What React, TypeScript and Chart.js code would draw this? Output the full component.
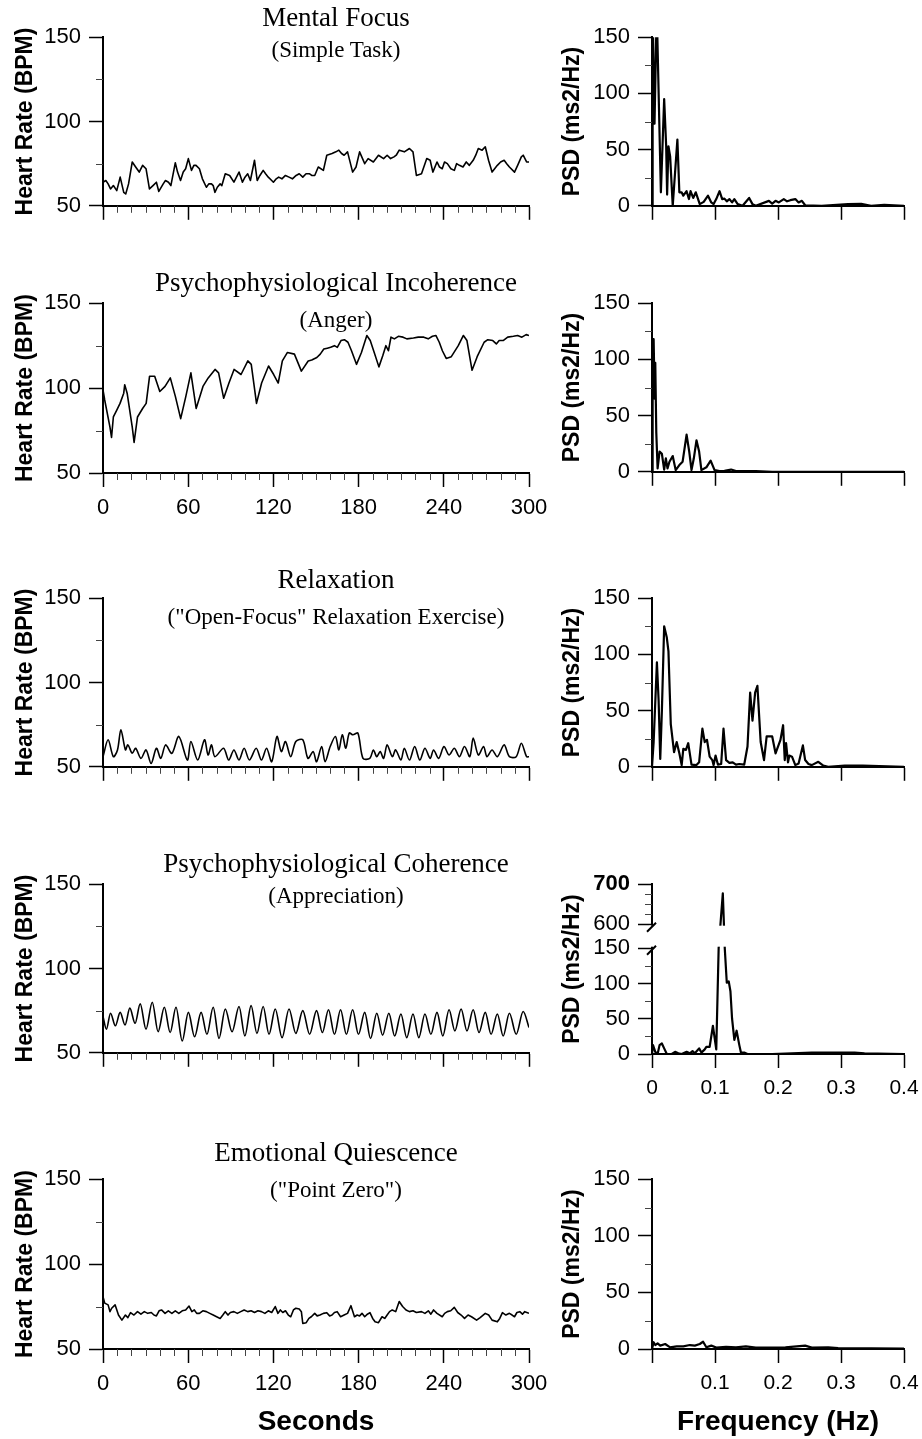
import React, { useEffect, useRef } from 'react';
import { Chart, registerables, LinearScale } from 'chart.js';

Chart.register(...registerables);

// ---------------- DATA ----------------
// Heart-rate traces: [seconds, BPM]
const FOCUS_HR = [[0,64],[2,65],[3.6,63],[5.3,60],[7.3,62],[9.7,59],[12.1,67],[14.6,58],[16,57],[18,63],[20.6,76],[23,73],[25.5,70],[27.9,74],[30.3,72],[32.7,60],[35.2,62],[37.6,64],[39.3,58.5],[42.4,63],[44,65],[46.1,64],[47.8,62],[50.9,75.5],[52.5,70],[54.6,65],[56.5,70],[58.2,72],[60.1,78],[62.3,71],[64,74],[65.5,74],[67.9,72],[70,66],[72.8,61],[74.5,63],[76.4,63],[77.6,62],[78.8,58],[80.5,61],[82.5,63],[83.7,62],[86.1,69],[89.2,68],[92.2,64],[95.8,70],[98.2,64],[100,67],[101.9,69],[103.8,65],[106.7,77],[108.6,65],[110.5,68],[112.8,71],[114.5,69],[116.4,67],[118.8,65],[120,64],[122,66],[123.7,67],[126,66],[128.5,68],[131,67],[133.4,66],[136,68],[138.2,69],[140.7,67],[143,69],[145.5,69],[147,68],[149.1,68],[151.6,73],[155.2,71],[157.6,80],[161.3,81],[164,82],[166.1,83],[168,81],[169.8,80],[172.2,82],[175.8,70],[178.2,73],[180.7,82],[184.3,75],[186.7,78],[190.4,76],[194,80],[197.6,78],[200.1,80],[202.5,78],[204.9,79],[206.5,80],[208.6,83],[212.2,82],[215.8,84],[218.3,82],[220.7,68],[224.3,69],[228,78],[230.4,77],[232.3,70],[235.2,76],[237,73],[238.9,72],[240.5,76],[242.5,75],[245,72],[247.4,71],[249,75],[251,74],[253.5,73],[255.8,76],[258,74],[260.7,77],[262.5,80],[264.3,84],[267,83],[269.2,85],[271.5,77],[274,70],[275.8,72],[277.7,74],[280,76],[282.5,77],[284.3,75],[286.2,73],[289.8,70],[292,74],[294.6,79],[295.9,80],[298.3,76],[300,76]];

const ANGER_HR = [[0,99],[1.2,93],[4.9,77],[6,71],[7.3,83],[9.7,87],[12,91],[14.6,97],[15.3,102],[17,97],[20.6,77],[21.9,68],[24.3,83],[27.9,88],[30.4,91],[32.8,107],[36.4,107],[40,98],[43.7,101],[47.4,106],[51,95],[54.7,82],[58.3,95],[61.9,109],[65.6,88],[70.4,101],[74.1,106],[78.9,111],[81.4,109],[85,94],[88.7,103],[92.3,111],[97.2,108],[102,116],[104.4,114],[108.1,91],[111.7,103],[116.6,113],[120.2,108],[123.4,103],[126.3,116],[129.9,121],[134.8,120],[139.7,110],[144.5,116],[147,116.5],[150.6,118],[153,120],[155.5,123],[158,123.5],[160.3,124],[163,125],[165,124],[167.6,128],[170,128.5],[172.5,127],[175,122],[178.5,114],[182,121],[185.8,131],[188.2,128],[191,121],[194.3,112.5],[197,119],[199.2,125],[201,122],[202.8,130],[205.2,129],[208,130.5],[211.3,130],[214,129],[218.6,129.5],[222,130],[225.9,130],[229,129],[232,130.5],[234.4,131],[236.8,127],[239,122],[241.7,117.5],[245.3,118.5],[250.2,125],[253.8,131],[256.3,128],[259.9,110.5],[263.5,118.5],[268.4,127],[271,128.5],[274.5,128],[277,126],[279,128],[281.8,128],[285,130],[289,130.5],[292,131],[295,130],[298,131.5],[300,131]];

const RELAX_HR = [[0,56],[3.6,66],[7.3,56],[10.2,60],[12.6,72],[15.8,60],[17.5,63],[20.6,58],[23,61],[26.7,55],[30.3,60],[33.9,52],[37.6,61],[40.7,55],[44.1,63],[48.5,58],[53.4,68],[59.4,54],[61.9,65],[66.7,54],[71.5,66],[74,57],[76.4,63],[78.8,56],[84.9,61],[88.5,54],[92.2,60],[95.8,54],[99.4,61],[103.1,54],[107.9,61],[111.6,54],[115.2,61],[118.8,53],[122.5,68],[125.6,59],[128.5,65],[132.2,56],[135.8,65],[140.7,66],[144.3,55],[148,59],[150.4,53],[154,62],[156.4,53],[160,62],[163.7,68],[166.1,60],[168.5,69],[171,61],[173.4,70],[176,69],[179.5,70],[183.1,55],[187.9,55],[190.4,60],[192.8,56],[195.2,59],[197.6,55],[200.1,63],[203.7,56],[206.1,60],[209.8,54],[212.2,61],[215.8,54],[219.5,62],[223.1,54],[226.7,61],[230.4,55],[232.8,60],[236.4,55],[240.1,62],[243.7,57],[247.4,61],[251,56],[254.6,62],[258.3,56],[260.7,67],[264.3,57],[268,62],[270.4,56],[274,60],[277.7,56],[282.5,63],[286.2,56],[291,56],[294.6,64],[298.3,56],[300,56]];

const COHERENCE_HR = [[0,71.5],[2.4,64],[5.3,73.5],[8.7,66],[12.1,74],[15.5,66.5],[18.9,76.5],[22.6,67.5],[26.2,79],[30.3,64],[34.7,80],[38.8,62.5],[43.2,77],[47.3,62],[51.4,77],[55.8,57],[60.1,74],[64.5,59.5],[69.1,74],[73.2,61],[77.6,77],[81.7,58.5],[86.1,76],[90.9,62.5],[95.8,77.5],[99.9,60],[104.3,78],[108.4,61.5],[112.8,77.5],[116.9,61],[121.3,76],[126.1,59],[131,76],[135.8,61.5],[140.7,75],[145.5,61],[150.4,75],[154.5,62],[158.8,75.5],[163,61],[167.3,75.5],[171.4,61],[175.8,75.5],[179.9,61],[184.3,74],[188.4,58.5],[192.8,73.5],[196.9,60.5],[201.3,73.5],[205.4,60],[209.8,73],[213.9,59],[218.3,73],[222.4,59],[226.7,73],[230.9,61],[235.2,74],[239.3,60],[243.7,75.5],[247.8,63],[252.2,76],[256.3,63],[260.7,75.5],[264.8,62],[269.2,74],[273.3,61],[277.7,73],[281.8,60],[286.2,73.5],[291,61],[295.9,74.5],[300,65]];

const QUIESCENCE_HR = [[0,80.8],[1.2,77],[3.6,76],[4.9,72],[6.1,74],[8.5,76],[10.9,70],[13.3,67],[15.8,70],[17.5,68.5],[19.4,71.4],[21.8,70],[24.3,72],[26.7,70.5],[29.1,72],[31.5,71],[34,71.5],[35.9,70],[37.6,69.5],[39.5,72.5],[41.2,73],[43.7,71],[46,72.5],[48.5,71],[50.9,72.5],[53.4,71],[55.8,72.5],[58.2,73],[60.6,75.3],[62.6,72],[64.3,73],[66,71],[67.9,71],[70.3,72.5],[72.8,72],[75.2,71],[77.6,70],[80,69],[82.5,68],[84.4,70],[86.1,72],[88,70],[89.7,71.5],[92.2,72],[94.6,71],[97,72],[99.4,73],[101.9,72],[104.3,72.5],[106.7,71.5],[109.1,72.5],[111.6,72],[114,71],[116.4,72.5],[118.8,71.5],[121.3,75],[123.2,71],[124.9,73],[126.6,71.5],[128.5,72.5],[130.5,70],[132.2,69],[134.1,73],[135.8,74],[138.2,73.5],[139.7,72],[140.7,65],[143.1,65.5],[145,68],[146.7,69],[149.1,71],[150.8,69.5],[152.8,70],[155.2,71],[157.6,71.4],[159.6,69.5],[161.3,70],[163,71.5],[164.9,72],[167.3,69],[169.8,70],[172.2,71],[174.6,75.5],[177.1,69],[179,70],[180.7,69.5],[182.4,71],[184.3,69],[186.2,70.5],[188,71.4],[189.9,68],[191.6,66],[194,65.5],[196.5,69],[198.4,68],[200.1,70],[201.8,72],[203.7,73],[206.1,72],[208.6,78],[211,75],[213.4,73],[215.8,72],[218.3,72.5],[220.7,71.5],[224.3,72],[226.7,71],[229.1,72.5],[230.9,70.5],[232.8,73],[235.2,71],[238.9,69],[240.6,71],[242.5,72],[244.9,72.5],[247.4,74.5],[249.8,71.5],[252.2,70],[254.6,68],[257.1,70],[259.5,69],[263.1,67],[265.6,68.5],[269.2,71],[271.6,70],[274,67],[277.7,66],[279.4,68],[281.3,71.4],[283.7,70],[286.2,71],[288.1,70],[289.8,69],[291.5,71.5],[293.5,72],[295.4,70.5],[297,72],[300,71]];

// Power spectra: [Hz, ms2/Hz]
const FOCUS_PSD = [[0,0],[0.001,175],[0.004,73],[0.0075,175],[0.0141,12],[0.0193,95],[0.0225,53],[0.024,10],[0.0261,53],[0.0288,44],[0.0329,0],[0.0403,59],[0.0434,12],[0.047,12],[0.0497,9],[0.0549,13],[0.0586,6],[0.0612,13],[0.0654,7],[0.0695,12],[0.0758,1.5],[0.0821,3.5],[0.0889,9],[0.0941,3],[0.0978,1.5],[0.102,6],[0.1072,13],[0.1114,6],[0.115,6.4],[0.1187,4],[0.1229,6],[0.1271,3],[0.1307,6],[0.136,1.5],[0.1438,0],[0.1542,7],[0.1595,1.5],[0.1647,0],[0.1856,4.4],[0.1908,2],[0.1961,4.4],[0.2013,3],[0.2092,6],[0.2144,4],[0.2196,5],[0.2275,6],[0.2327,3],[0.2379,4.4],[0.2431,0.5],[0.2693,0],[0.3111,1.5],[0.332,1.8],[0.3477,0],[0.3686,0.9],[0.4,0]];

const ANGER_PSD = [[0,0],[0.001,118],[0.0026,118],[0.0042,65],[0.0052,97],[0.0068,35],[0.0089,3],[0.012,18],[0.0157,16],[0.0193,2],[0.022,12],[0.0246,3],[0.0277,9],[0.0329,14],[0.0376,1.5],[0.0434,6],[0.0486,9],[0.0549,33],[0.0591,18],[0.0627,1.5],[0.0664,12],[0.0706,28],[0.0748,18],[0.0784,1.5],[0.0863,4],[0.0931,10],[0.0993,1.5],[0.1072,0.6],[0.115,0.9],[0.1255,2],[0.1333,0.6],[0.1647,0.6],[0.1908,0],[0.4,0]];

const RELAX_PSD = [[0,0],[0.0026,22],[0.0078,93],[0.0105,59],[0.0131,7],[0.0157,50],[0.0193,125],[0.0235,115],[0.0261,103],[0.0298,38],[0.035,13],[0.0392,22],[0.0434,12],[0.0471,1.5],[0.0497,16],[0.0539,15],[0.0575,21],[0.0627,2],[0.0706,1.5],[0.0748,4],[0.08,34],[0.0837,22],[0.0873,24],[0.0915,9],[0.0957,6],[0.0978,1.5],[0.1009,10],[0.1046,2],[0.1098,2.5],[0.1135,34],[0.1176,6],[0.1229,3.5],[0.1281,4],[0.1333,2],[0.1386,2.5],[0.1464,2],[0.1516,18],[0.1558,66],[0.1595,41],[0.1637,66],[0.1673,72],[0.1725,22],[0.1778,6],[0.182,27],[0.1908,27],[0.1961,12],[0.2039,24],[0.2081,37],[0.2107,6],[0.2128,21],[0.2159,4],[0.218,10],[0.2222,9],[0.2275,1.5],[0.2327,3],[0.2395,19],[0.2431,6],[0.2484,2.5],[0.2536,1.5],[0.264,4.4],[0.2719,1],[0.2797,0],[0.3059,1],[0.3346,1],[0.4,0]];

const COHERENCE_PSD = [[0,0],[0.0016,12.6],[0.0052,3],[0.0089,0],[0.012,12.6],[0.0157,15],[0.0193,8],[0.0235,0],[0.0314,0],[0.0366,3],[0.0418,1],[0.0471,0],[0.0549,3],[0.0601,1],[0.0643,4],[0.068,1],[0.0748,8],[0.0784,2],[0.0837,6.5],[0.0863,10],[0.0915,10],[0.0967,40],[0.102,6.5],[0.1058,150],[0.1124,677],[0.1155,150],[0.1187,101],[0.1218,103],[0.1245,89],[0.1271,50],[0.1307,20],[0.1343,33],[0.1386,12.6],[0.1412,2],[0.1464,2],[0.1516,0],[0.1908,0],[0.2222,1],[0.2536,2],[0.3216,2],[0.3373,1],[0.4,0]];

const QUIESCENCE_PSD = [[0,0],[0.0026,6],[0.0052,3.5],[0.0089,5],[0.0131,3],[0.0209,4.4],[0.0288,1.5],[0.0392,2.3],[0.0497,2.3],[0.0601,3.5],[0.068,3],[0.0758,4.4],[0.0811,6.4],[0.0863,1.5],[0.0941,3],[0.102,1.2],[0.1176,2],[0.1333,1.5],[0.149,2.3],[0.1647,1.2],[0.1908,1.2],[0.2118,1.5],[0.2431,3],[0.2536,1.2],[0.2797,1.5],[0.2954,0.9],[0.3477,0.6],[0.4,0.3]];

// Ticks
const SEC_MAJOR = [0, 60, 120, 180, 240, 300];
const SEC_MINOR = [10,20,30,40,50,70,80,90,100,110,130,140,150,160,170,190,200,210,220,230,250,260,270,280,290];
const HR_MAJOR = [50, 100, 150];
const HR_MINOR = [75, 125];
const PSD_MAJOR = [0, 50, 100, 150];
const PSD_MINOR = [25, 75, 125];
const FREQ_MAJOR = [0, 0.1, 0.2, 0.3, 0.4];
const BROKEN_MAJOR = [0, 50, 100, 150, 600, 700];
const BROKEN_MINOR = [25, 75, 125, 625, 650, 675];

// Titles
const TITLES = [
  { text: 'Mental Focus', cy: 18, size: 27 },
  { text: '(Simple Task)', cy: 50, size: 23 },
  { text: 'Psychophysiological Incoherence', cy: 283, size: 27 },
  { text: '(Anger)', cy: 320, size: 23 },
  { text: 'Relaxation', cy: 580, size: 27 },
  { text: '("Open-Focus" Relaxation Exercise)', cy: 617, size: 23 },
  { text: 'Psychophysiological Coherence', cy: 864, size: 27 },
  { text: '(Appreciation)', cy: 896, size: 23 },
  { text: 'Emotional Quiescence', cy: 1153, size: 27 },
  { text: '("Point Zero")', cy: 1190, size: 23 },
];

// ---------------- Broken y scale (0-150 and 600-700) ----------------
const BREAK_LOW_MAX = 150;
const BREAK_HIGH_MIN = 600;
const BREAK_HIGH_MAX = 700;
const BREAK_UPPER_PX = 40;
const BREAK_GAP_PX = 24;

class BrokenScale extends LinearScale {
  getPixelForValue(value: number) {
    const top = (this as any).top, bottom = (this as any).bottom;
    const lowerTop = top + BREAK_UPPER_PX + BREAK_GAP_PX;
    if (value <= BREAK_LOW_MAX) return bottom - (value / BREAK_LOW_MAX) * (bottom - lowerTop);
    if (value >= BREAK_HIGH_MIN) return top + BREAK_UPPER_PX - ((value - BREAK_HIGH_MIN) / (BREAK_HIGH_MAX - BREAK_HIGH_MIN)) * BREAK_UPPER_PX;
    return lowerTop - ((value - BREAK_LOW_MAX) / (BREAK_HIGH_MIN - BREAK_LOW_MAX)) * BREAK_GAP_PX;
  }
  getValueForPixel(pixel: number) {
    const top = (this as any).top, bottom = (this as any).bottom;
    const upperBottom = top + BREAK_UPPER_PX;
    const lowerTop = upperBottom + BREAK_GAP_PX;
    if (pixel >= lowerTop) return ((bottom - pixel) / (bottom - lowerTop)) * BREAK_LOW_MAX;
    if (pixel <= upperBottom) return BREAK_HIGH_MIN + ((upperBottom - pixel) / BREAK_UPPER_PX) * (BREAK_HIGH_MAX - BREAK_HIGH_MIN);
    return BREAK_LOW_MAX + ((lowerTop - pixel) / BREAK_GAP_PX) * (BREAK_HIGH_MIN - BREAK_LOW_MAX);
  }
}
(BrokenScale as any).id = 'brokenLinear';
(BrokenScale as any).defaults = (LinearScale as any).defaults;
Chart.register(BrokenScale as any);

Chart.defaults.font.family = "'Liberation Sans', Arial, Helvetica, sans-serif";
Chart.defaults.color = '#000';

// ---------------- Panels ----------------
const LEFT = { canvasLeft: 0, canvasWidth: 560, areaLeft: 103, areaRight: 529 };
const RIGHT = { canvasLeft: 540, canvasWidth: 400, areaLeft: 652, areaRight: 904 };
const ROWS = [
  { top: 36, bottom: 207 },
  { top: 302, bottom: 473 },
  { top: 597, bottom: 768 },
  { top: 883, bottom: 1054 },
  { top: 1178, bottom: 1349 },
];

const secLabel = (v: number) => (SEC_MAJOR.includes(v) ? String(v) : '');
const noLabel = () => '';
const freqLabel = (v: number) => (Math.abs(v) < 1e-9 ? '0' : v.toFixed(1));
const freqLabelNoZero = (v: number) => (Math.abs(v) < 1e-9 ? '' : v.toFixed(1));

type Spec = any;

function leftPanel(row: number, data: number[][], opts: any): Spec {
  return {
    side: LEFT, row: ROWS[row], data,
    xMin: 0, xMax: 300, xMajor: SEC_MAJOR, xMinor: SEC_MINOR,
    yMin: 50, yMax: 150, yMajor: HR_MAJOR, yMinor: HR_MINOR,
    yLabel: (v: number) => String(v), yTitle: 'Heart Rate (BPM)', yTitlePad: 12,
    lineWidth: 1.6, tension: 0, monotone: false, broken: false,
    xLabel: noLabel, xH: 20, xTitle: '', xFont: 22,
    ...opts,
  };
}
function rightPanel(row: number, data: number[][], opts: any): Spec {
  return {
    side: RIGHT, row: ROWS[row], data,
    xMin: 0, xMax: 0.4, xMajor: FREQ_MAJOR, xMinor: [],
    yMin: 0, yMax: 150, yMajor: PSD_MAJOR, yMinor: PSD_MINOR,
    yLabel: (v: number) => String(v), yTitle: 'PSD (ms2/Hz)', yTitlePad: 19,
    lineWidth: 2.2, tension: 0, monotone: false, broken: false,
    xLabel: noLabel, xH: 20, xTitle: '', xFont: 21,
    ...opts,
  };
}

const PANELS: Spec[] = [
  leftPanel(0, FOCUS_HR, {}),
  rightPanel(0, FOCUS_PSD, {}),
  leftPanel(1, ANGER_HR, { xLabel: secLabel, xH: 50 }),
  rightPanel(1, ANGER_PSD, {}),
  leftPanel(2, RELAX_HR, { tension: 0.3 }),
  rightPanel(2, RELAX_PSD, {}),
  leftPanel(3, COHERENCE_HR, { monotone: true }),
  rightPanel(3, COHERENCE_PSD, {
    broken: true, yMax: 700, yMajor: BROKEN_MAJOR, yMinor: BROKEN_MINOR,
    xLabel: freqLabel, xH: 50,
  }),
  leftPanel(4, QUIESCENCE_HR, { xLabel: secLabel, xH: 90, xTitle: 'Seconds' }),
  rightPanel(4, QUIESCENCE_PSD, { xLabel: freqLabelNoZero, xH: 90, xTitle: 'Frequency (Hz)' }),
];

const PAD_TOP = 20;

function extrasPlugin(p: Spec) {
  return {
    id: 'axisExtras',
    afterDraw(chart: any) {
      const ctx = chart.ctx;
      const xs = chart.scales.x;
      const ys = chart.scales.y;
      const area = chart.chartArea;
      ctx.save();
      if (p.broken) {
        const yHi = ys.getPixelForValue(BREAK_HIGH_MIN);
        const yLo = ys.getPixelForValue(BREAK_LOW_MAX);
        ctx.fillStyle = '#fff';
        ctx.fillRect(area.left - 3, yHi + 1.5, area.right - area.left + 6, yLo - yHi - 3);
      }
      ctx.strokeStyle = '#444';
      ctx.lineWidth = 1;
      ctx.beginPath();
      for (const v of p.yMinor) {
        const py = Math.round(ys.getPixelForValue(v)) + 0.5;
        ctx.moveTo(area.left - 7, py);
        ctx.lineTo(area.left, py);
      }
      for (const v of p.xMinor) {
        const px = Math.round(xs.getPixelForValue(v)) + 0.5;
        ctx.moveTo(px, area.bottom);
        ctx.lineTo(px, area.bottom + 7);
      }
      ctx.stroke();
      if (p.broken) {
        const yHi = ys.getPixelForValue(BREAK_HIGH_MIN);
        const yLo = ys.getPixelForValue(BREAK_LOW_MAX);
        ctx.strokeStyle = '#000';
        ctx.lineWidth = 2;
        ctx.beginPath();
        for (const yy of [yHi + 2.5, yLo + 1.5]) {
          ctx.moveTo(area.left - 5, yy + 5);
          ctx.lineTo(area.left + 4, yy - 4);
        }
        ctx.stroke();
      }
      ctx.restore();
    },
  };
}

function buildConfig(p: Spec) {
  const side = p.side;
  const yW = side.areaLeft - side.canvasLeft;
  const padRight = side.canvasLeft + side.canvasWidth - side.areaRight;
  return {
    type: 'line',
    data: {
      datasets: [
        {
          data: p.data.map((d: number[]) => ({ x: d[0], y: d[1] })),
          borderColor: '#000',
          borderWidth: p.lineWidth,
          pointRadius: 0,
          pointHoverRadius: 0,
          fill: false,
          tension: p.tension,
          cubicInterpolationMode: p.monotone ? 'monotone' : 'default',
          clip: 0,
          borderJoinStyle: 'round',
        },
      ],
    },
    options: {
      animation: false,
      responsive: false,
      maintainAspectRatio: false,
      devicePixelRatio: 1,
      events: [],
      layout: { autoPadding: false, padding: { left: 0, right: padRight, top: PAD_TOP, bottom: 0 } },
      plugins: { legend: { display: false }, tooltip: { enabled: false }, title: { display: false } },
      scales: {
        x: {
          type: 'linear',
          position: 'bottom',
          min: p.xMin,
          max: p.xMax,
          afterBuildTicks: (s: any) => { s.ticks = p.xMajor.map((v: number) => ({ value: v })); },
          afterFit: (s: any) => { s.height = p.xH; },
          grid: { display: true, drawOnChartArea: false, drawTicks: true, tickLength: 14, tickWidth: 1.5, tickColor: '#000' },
          border: { display: true, color: '#000', width: 2 },
          ticks: {
            autoSkip: false, maxRotation: 0, minRotation: 0, padding: 8, color: '#000',
            font: { size: p.xFont },
            callback: (v: number) => p.xLabel(v),
          },
          title: p.xTitle
            ? { display: true, text: p.xTitle, color: '#000', font: { size: 28, weight: 'bold' }, padding: { top: 0, bottom: 0 } }
            : { display: false },
        },
        y: {
          type: p.broken ? 'brokenLinear' : 'linear',
          position: 'left',
          min: p.yMin,
          max: p.yMax,
          afterBuildTicks: (s: any) => { s.ticks = p.yMajor.map((v: number) => ({ value: v })); },
          afterFit: (s: any) => { s.width = yW; },
          grid: { display: true, drawOnChartArea: false, drawTicks: true, tickLength: 14, tickWidth: 1.5, tickColor: '#000' },
          border: { display: true, color: '#000', width: 2 },
          ticks: {
            autoSkip: false, padding: 8, color: '#000',
            font: (c: any) => ({ size: 22, weight: c && c.tick && c.tick.value === 700 ? 'bold' : 'normal' }),
            callback: (v: number) => p.yLabel(v),
          },
          title: {
            display: true, text: p.yTitle, color: '#000',
            font: { size: 23, weight: 'bold' },
            padding: { top: p.yTitlePad, bottom: 0 },
          },
        },
      },
    },
    plugins: [extrasPlugin(p)],
  };
}

function Panel({ spec }: { spec: Spec }) {
  const ref = useRef<HTMLCanvasElement | null>(null);
  const left = spec.side.canvasLeft;
  const width = spec.side.canvasWidth;
  const top = spec.row.top - PAD_TOP;
  const height = spec.row.bottom - spec.row.top + PAD_TOP + spec.xH;
  useEffect(() => {
    if (!ref.current) return;
    const chart = new Chart(ref.current, buildConfig(spec) as any);
    return () => chart.destroy();
  }, [spec]);
  return (
    <canvas
      ref={ref}
      width={width}
      height={height}
      style={{ position: 'absolute', left, top, width, height, display: 'block' }}
    />
  );
}

function TitleText({ t }: { t: { text: string; cy: number; size: number } }) {
  return (
    <div
      style={{
        position: 'absolute',
        left: 36,
        width: 600,
        top: t.cy - Math.round(t.size * 0.53),
        textAlign: 'center',
        fontFamily: "'Liberation Serif', 'Times New Roman', serif",
        fontSize: t.size,
        lineHeight: '1',
        whiteSpace: 'nowrap',
        color: '#000',
      }}
    >
      {t.text}
    </div>
  );
}

export default function App() {
  return (
    <div style={{ position: 'absolute', left: 0, top: 0, width: 922, height: 1439, background: '#fff', overflow: 'hidden' }}>
      {PANELS.map((p, i) => (
        <Panel key={i} spec={p} />
      ))}
      {TITLES.map((t, i) => (
        <TitleText key={'t' + i} t={t} />
      ))}
    </div>
  );
}
